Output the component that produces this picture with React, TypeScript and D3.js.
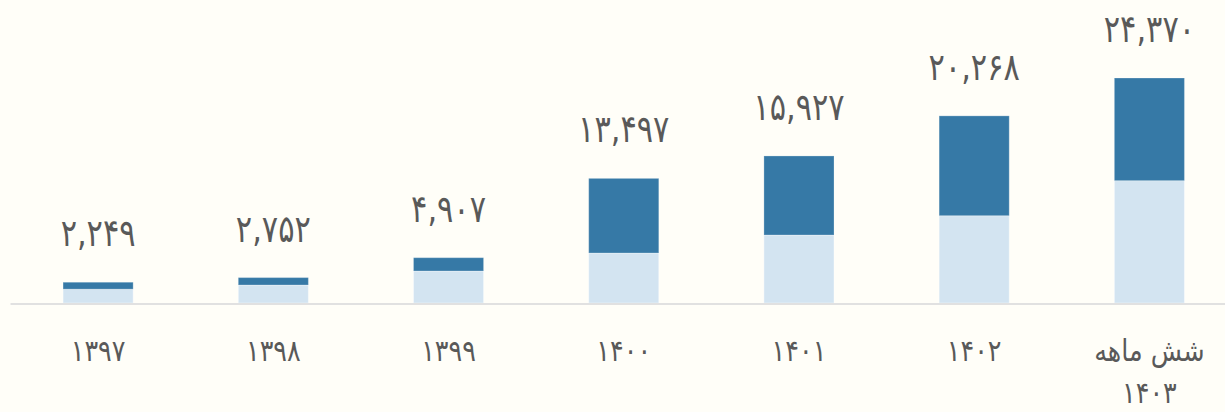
import React from "react";
import * as d3 from "d3";

// categories (Persian years), last one is "six months of 1403"
const categories = ["۱۳۹۷", "۱۳۹۸", "۱۳۹۹", "۱۴۰۰", "۱۴۰۱", "۱۴۰۲", "شش ماهه\n۱۴۰۳"];
// totals shown above bars
const totals = [2249, 2752, 4907, 13497, 15927, 20268, 24370];
// lower (light) segment
const lowerValues = [1500, 1950, 3466, 5415, 7365, 9455, 13250];

const width = 1225;
const height = 412;
const baseY = 303;

const persianDigits = "۰۱۲۳۴۵۶۷۸۹";
const toPersian = (n: number) =>
  d3.format(",")(n).replace(/[0-9]/g, (c) => persianDigits[+c]);

const App: React.FC = () => {
  const x = d3
    .scaleBand<string>()
    .domain(categories)
    .range([10.5, 1237])
    .paddingInner(0.6)
    .paddingOuter(0.3);

  const y = d3.scaleLinear().domain([0, 26000]).range([baseY, baseY - (26000 * 225) / 24370]);

  const stacked = categories.map((c, i) => ({
    cat: c,
    lower: lowerValues[i],
    upper: totals[i] - lowerValues[i],
    total: totals[i],
  }));

  const textColor = "#595959";
  const font = "'DejaVu Sans', sans-serif";

  return (
    <svg
      width={width}
      height={height}
      style={{ position: "absolute", left: 0, top: 0, display: "block" }}
    >
      <rect width={width} height={height} fill="#fffef8" />

      {stacked.map((d) => {
        const bx = x(d.cat) || 0;
        const bw = x.bandwidth();
        return (
          <g key={d.cat}>
            <rect
              x={bx}
              y={y(d.lower)}
              width={bw}
              height={y(0) - y(d.lower)}
              fill="#d3e4f1"
              stroke="#ffffff"
              strokeOpacity={0.4}
              strokeWidth={1}
            />
            <rect
              x={bx}
              y={y(d.total)}
              width={bw}
              height={y(d.lower) - y(d.total)}
              fill="#3679a6"
              stroke="#ffffff"
              strokeOpacity={0.25}
              strokeWidth={1}
            />
            <text
              transform={`translate(${bx + bw / 2},${y(d.total) - 36}) scale(0.8,1)`}
              textAnchor="middle"
              fill={textColor}
              fontFamily={font}
              fontSize={38}
              letterSpacing={-1}
            >
              {toPersian(d.total)}
            </text>
          </g>
        );
      })}

      {/* baseline */}
      <line x1={10.5} x2={width} y1={baseY + 1} y2={baseY + 1} stroke="#e1e1e1" strokeWidth={2} />

      {/* category labels */}
      {categories.map((c) => {
        const lines = c.split("\n");
        const cx = (x(c) || 0) + x.bandwidth() / 2;
        return (
          <text
            key={c}
            transform={`translate(${cx},${lines.length > 1 ? 361 : 361}) scale(0.85,1)`}
            textAnchor="middle"
            fill={textColor}
            fontFamily={font}
            fontSize={30}
          >
            {lines.map((l, j) => (
              <tspan key={j} x={0} dy={j === 0 ? 0 : 42} direction="rtl">
                {l}
              </tspan>
            ))}
          </text>
        );
      })}
    </svg>
  );
};

export default App;
